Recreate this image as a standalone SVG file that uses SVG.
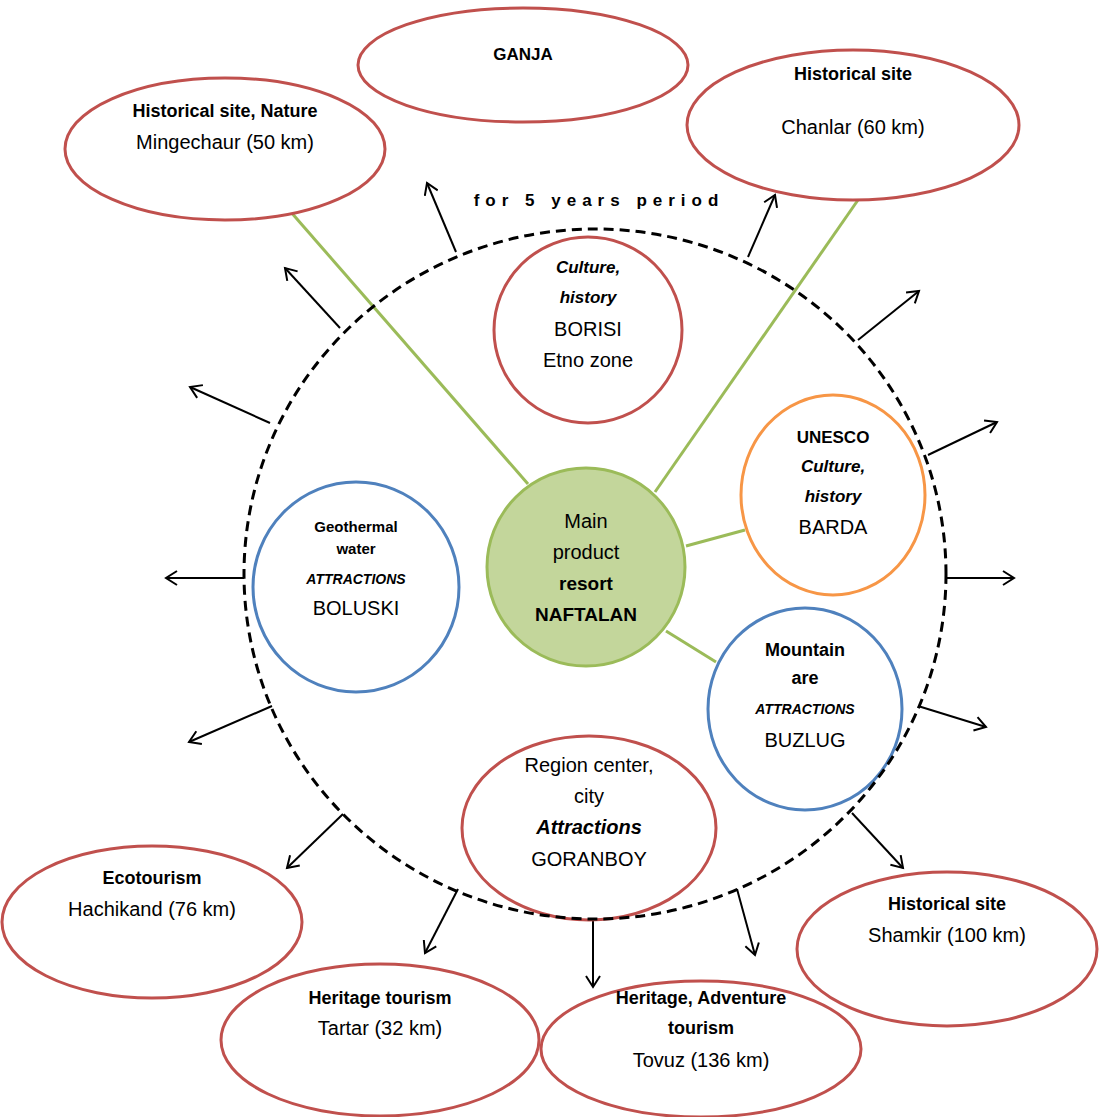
<svg xmlns="http://www.w3.org/2000/svg" width="1100" height="1117" viewBox="0 0 1100 1117">
<style>
text{font-family:"Liberation Sans",Arial,sans-serif;fill:#000;text-anchor:middle}
.r{font-size:20px}
.b{font-size:18px;font-weight:bold}
.bi{font-size:17px;font-weight:bold;font-style:italic}
.s{font-size:14px;font-weight:bold;font-style:italic}
.red{fill:#fff;stroke:#c0504d;stroke-width:3}
.blue{fill:#fff;stroke:#4f81bd;stroke-width:3}
.orange{fill:#fff;stroke:#f79646;stroke-width:3}
.main{fill:#c3d69b;stroke:#9bbb59;stroke-width:3}
.gl{stroke:#9bbb59;stroke-width:3;fill:none}
.ar{stroke:#000;stroke-width:2;fill:none;marker-end:url(#arr)}
</style>
<defs>
<marker id="arr" markerUnits="userSpaceOnUse" markerWidth="16" markerHeight="16" refX="13" refY="8" orient="auto">
<path d="M2,1 L13,8 L2,15" fill="none" stroke="#000" stroke-width="2"/>
</marker>
</defs>
<rect width="1100" height="1117" fill="#fff"/>

<g id="connectors">
<line class="gl" x1="290" y1="211" x2="528" y2="484"/>
<line class="gl" x1="858" y1="200" x2="655" y2="492"/>
<line class="gl" x1="686" y1="546" x2="745" y2="530"/>
<line class="gl" x1="666" y1="631" x2="716" y2="662"/>
<line class="ar" x1="456" y1="252" x2="427" y2="183"/>
<line class="ar" x1="340" y1="328" x2="285" y2="268"/>
<line class="ar" x1="270" y1="423" x2="190" y2="387"/>
<line class="ar" x1="244" y1="578" x2="166" y2="578"/>
<line class="ar" x1="272" y1="706" x2="189" y2="742"/>
<line class="ar" x1="343" y1="814" x2="287" y2="868"/>
<line class="ar" x1="458" y1="889" x2="425" y2="953"/>
<line class="ar" x1="593" y1="919" x2="593" y2="987"/>
<line class="ar" x1="737" y1="889" x2="755" y2="955"/>
<line class="ar" x1="852" y1="813" x2="903" y2="868"/>
<line class="ar" x1="918" y1="706" x2="986" y2="727"/>
<line class="ar" x1="946" y1="578" x2="1014" y2="578"/>
<line class="ar" x1="928" y1="455" x2="997" y2="422"/>
<line class="ar" x1="858" y1="340" x2="919" y2="291"/>
<line class="ar" x1="748" y1="257" x2="775" y2="195"/>
</g>

<g id="mingechaur">
<ellipse class="red" cx="225" cy="149" rx="160" ry="71"/>
<text class="b" x="225" y="117">Historical site, Nature</text>
<text class="r" x="225" y="149">Mingechaur (50 km)</text>
</g>
<g id="ganja">
<ellipse class="red" cx="523" cy="65" rx="165" ry="57"/>
<text class="b" x="523" y="60" style="font-size:17px">GANJA</text>
</g>
<g id="chanlar">
<ellipse class="red" cx="853" cy="125" rx="166" ry="75"/>
<text class="b" x="853" y="80">Historical site</text>
<text class="r" x="853" y="134">Chanlar (60 km)</text>
</g>
<g id="borisi">
<ellipse class="red" cx="588" cy="330" rx="94" ry="93"/>
<text class="bi" x="588" y="273">Culture,</text>
<text class="bi" x="588" y="303">history</text>
<text class="r" x="588" y="336">BORISI</text>
<text class="r" x="588" y="367">Etno zone</text>
</g>
<g id="naftalan">
<circle class="main" cx="586" cy="567" r="99"/>
<text class="r" x="586" y="528">Main</text>
<text class="r" x="586" y="559">product</text>
<text class="r" x="586" y="590" font-weight="bold" style="font-size:19px">resort</text>
<text class="r" x="586" y="621" font-weight="bold" style="font-size:19px">NAFTALAN</text>
</g>
<g id="barda">
<ellipse class="orange" cx="833" cy="495" rx="92" ry="100"/>
<text class="b" x="833" y="443" style="font-size:17px">UNESCO</text>
<text class="bi" x="833" y="472">Culture,</text>
<text class="bi" x="833" y="502">history</text>
<text class="r" x="833" y="534">BARDA</text>
</g>
<g id="boluski">
<ellipse class="blue" cx="356" cy="587" rx="103" ry="105"/>
<text class="b" x="356" y="532" style="font-size:15px">Geothermal</text>
<text class="b" x="356" y="554" style="font-size:15px">water</text>
<text class="s" x="356" y="584">ATTRACTIONS</text>
<text class="r" x="356" y="615">BOLUSKI</text>
</g>
<g id="buzlug">
<ellipse class="blue" cx="805" cy="709" rx="97" ry="101"/>
<text class="b" x="805" y="656">Mountain</text>
<text class="b" x="805" y="684">are</text>
<text class="s" x="805" y="714">ATTRACTIONS</text>
<text class="r" x="805" y="747">BUZLUG</text>
</g>
<g id="goranboy">
<ellipse class="red" cx="589" cy="828" rx="127" ry="92"/>
<text class="r" x="589" y="772">Region center,</text>
<text class="r" x="589" y="803">city</text>
<text class="r" x="589" y="834" font-weight="bold" font-style="italic">Attractions</text>
<text class="r" x="589" y="866">GORANBOY</text>
</g>
<g id="hachikand">
<ellipse class="red" cx="152" cy="922" rx="150" ry="76"/>
<text class="b" x="152" y="884">Ecotourism</text>
<text class="r" x="152" y="916">Hachikand (76 km)</text>
</g>
<g id="shamkir">
<ellipse class="red" cx="947" cy="949" rx="150" ry="77"/>
<text class="b" x="947" y="910">Historical site</text>
<text class="r" x="947" y="942">Shamkir (100 km)</text>
</g>
<g id="tartar">
<ellipse class="red" cx="380" cy="1040" rx="159" ry="76"/>
<text class="b" x="380" y="1004">Heritage tourism</text>
<text class="r" x="380" y="1035">Tartar (32 km)</text>
</g>
<g id="tovuz">
<ellipse class="red" cx="701" cy="1049" rx="160" ry="68"/>
<text class="b" x="701" y="1004">Heritage, Adventure</text>
<text class="b" x="701" y="1034">tourism</text>
<text class="r" x="701" y="1067">Tovuz (136 km)</text>
</g>

<g id="boundary">
<ellipse cx="595" cy="574" rx="351" ry="345" fill="none" stroke="#000" stroke-width="3" stroke-dasharray="10 6"/>
<text x="599" y="206" style="font-size:17px;font-weight:bold;letter-spacing:6px">for 5 years period</text>
</g>
</svg>
